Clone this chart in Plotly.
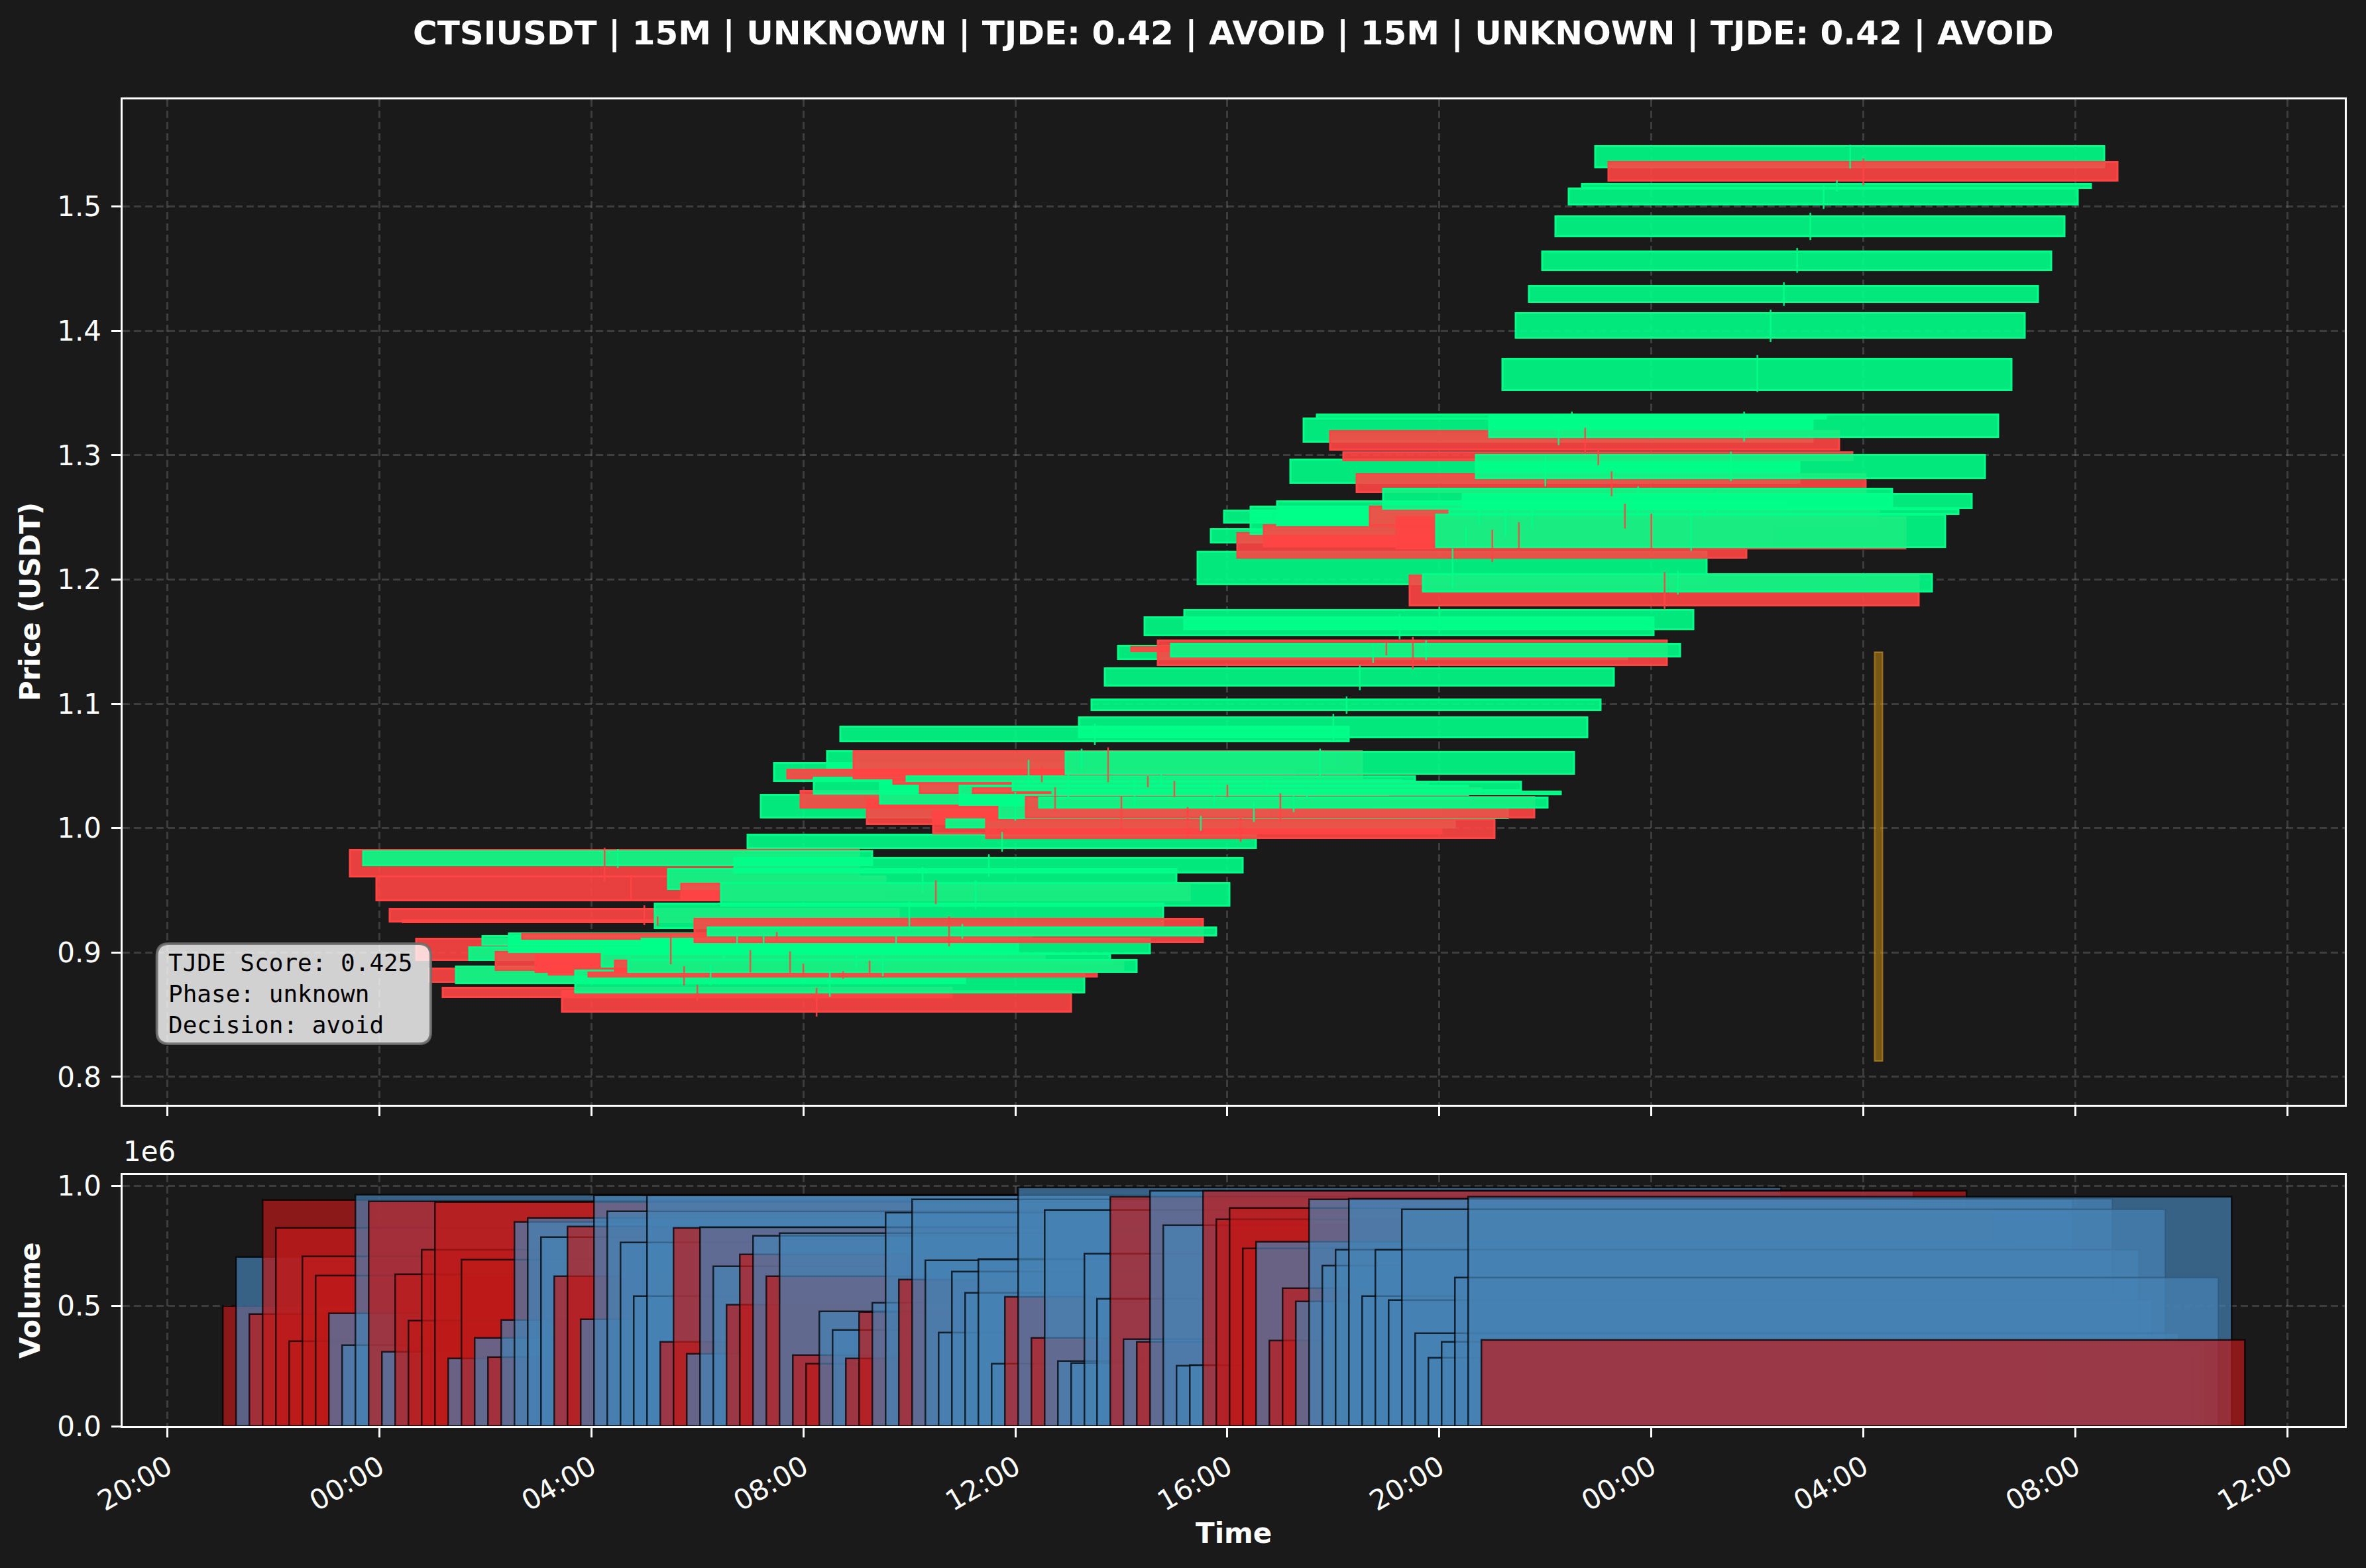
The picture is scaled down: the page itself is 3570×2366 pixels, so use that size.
import plotly.graph_objects as go
import pandas as pd

# ---------------- data ----------------
start_time = "2025-01-02 04:15"
n_candles = 96
opens = [0.982, 0.970, 0.961, 0.935, 0.926, 0.911, 0.887, 0.8716, 0.8751, 0.894,
         0.906, 0.900, 0.900, 0.9146, 0.898, 0.889, 0.8685, 0.8677, 0.8836, 0.8886,
         0.893, 0.884, 0.899, 0.9196, 0.951, 0.955, 0.9267, 0.9137, 0.9377, 0.964,
         0.9836, 1.0086, 1.0376, 1.0468, 1.0296, 1.0274, 1.0484, 1.0695, 1.0617, 1.023,
         1.0198, 1.0386, 1.0375, 1.0354, 1.0137, 1.0004, 1.0185, 1.032, 1.007, 1.008,
         1.0304, 1.0247, 1.0162, 1.027, 1.0434, 1.073, 1.0946, 1.1143, 1.1356, 1.1455,
         1.1548, 1.1507, 1.138, 1.1595, 1.1961, 1.2293, 1.2457, 1.2368, 1.2366, 1.2432,
         1.2436, 1.2777, 1.3107, 1.3294, 1.3191, 1.3018, 1.2844, 1.2583, 1.2569, 1.2498,
         1.2027, 1.1903, 1.226, 1.2527, 1.2570, 1.2814, 1.3141, 1.3523, 1.394, 1.423,
         1.4484, 1.476, 1.5014, 1.5148, 1.5314, 1.5354]
closes = [0.961, 0.981, 0.942, 0.9245, 0.924, 0.894, 0.876, 0.8637, 0.8884, 0.904,
          0.913, 0.886, 0.915, 0.911, 0.884, 0.882, 0.852, 0.8854, 0.8806, 0.8987,
          0.8854, 0.894, 0.911, 0.939, 0.9667, 0.9416, 0.9084, 0.920, 0.9555, 0.976,
          0.9944, 1.0264, 1.052, 1.040, 1.0162, 1.0402, 1.0615, 1.0813, 1.040, 1.003,
          1.0375, 1.0357, 1.0414, 1.0283, 0.9954, 1.0066, 1.034, 1.028, 0.992, 1.018,
          1.037, 1.0082, 1.0244, 1.029, 1.061, 1.089, 1.1033, 1.1281, 1.1463, 1.1423,
          1.1692, 1.1307, 1.148, 1.1752, 1.2219, 1.240, 1.2551, 1.2174, 1.2583, 1.2263,
          1.2624, 1.2960, 1.3294, 1.3324, 1.3043, 1.2954, 1.2698, 1.2436, 1.2727, 1.2245,
          1.1787, 1.2042, 1.252, 1.2562, 1.2683, 1.2997, 1.3324, 1.377, 1.414, 1.436,
          1.4637, 1.4916, 1.5143, 1.518, 1.548, 1.5208]
highs = [0.9842, 0.9833, 0.963, 0.938, 0.929, 0.9146, 0.889, 0.874, 0.890, 0.906,
         0.9155, 0.902, 0.9165, 0.9165, 0.901, 0.891, 0.8716, 0.8863, 0.885, 0.9005,
         0.8935, 0.896, 0.914, 0.941, 0.969, 0.958, 0.929, 0.923, 0.958, 0.979,
         0.997, 1.029, 1.055, 1.050, 1.033, 1.043, 1.064, 1.084, 1.065, 1.026,
         1.040, 1.042, 1.044, 1.038, 1.017, 1.010, 1.037, 1.035, 1.010, 1.021,
         1.040, 1.028, 1.027, 1.032, 1.064, 1.092, 1.106, 1.131, 1.149, 1.149,
         1.172, 1.154, 1.151, 1.178, 1.225, 1.243, 1.258, 1.240, 1.261, 1.246,
         1.265, 1.299, 1.332, 1.335, 1.322, 1.305, 1.287, 1.261, 1.275, 1.253,
         1.206, 1.207, 1.255, 1.259, 1.271, 1.303, 1.335, 1.3805, 1.417, 1.439,
         1.4667, 1.495, 1.517, 1.521, 1.5496, 1.5387]
lows = [0.9572, 0.968, 0.9412, 0.922, 0.9217, 0.8906, 0.8735, 0.861, 0.8737, 0.893,
        0.9045, 0.884, 0.898, 0.9095, 0.8837, 0.8805, 0.8485, 0.8645, 0.879, 0.887,
        0.8834, 0.881, 0.897, 0.917, 0.948, 0.939, 0.905, 0.911, 0.935, 0.961,
        0.981, 1.006, 1.035, 1.037, 1.013, 1.025, 1.046, 1.067, 1.037, 1.000,
        1.017, 1.033, 1.035, 1.025, 0.992, 0.998, 1.016, 1.025, 0.989, 1.005,
        1.028, 1.005, 1.013, 1.024, 1.041, 1.070, 1.092, 1.111, 1.133, 1.139,
        1.152, 1.128, 1.135, 1.157, 1.193, 1.226, 1.243, 1.214, 1.234, 1.223,
        1.241, 1.275, 1.308, 1.327, 1.301, 1.292, 1.267, 1.241, 1.254, 1.221,
        1.176, 1.188, 1.223, 1.250, 1.254, 1.279, 1.311, 1.3508, 1.391, 1.420,
        1.4467, 1.473, 1.498, 1.512, 1.5306, 1.5171]
volumes = [500e3, 703e3, 465e3, 939e3, 824e3, 353e3, 706e3, 626e3, 468e3, 335e3,
           961e3, 935e3, 310e3, 632e3, 438e3, 733e3, 933e3, 282e3, 692e3, 368e3,
           288e3, 440e3, 850e3, 867e3, 786e3, 624e3, 830e3, 444e3, 959e3, 894e3,
           765e3, 541e3, 959e3, 349e3, 824e3, 300e3, 828e3, 665e3, 504e3, 714e3,
           792e3, 624e3, 802e3, 296e3, 259e3, 476e3, 400e3, 282e3, 473e3, 514e3,
           889e3, 608e3, 942e3, 689e3, 390e3, 642e3, 553e3, 695e3, 258e3, 538e3,
           993e3, 367e3, 900e3, 269e3, 261e3, 718e3, 529e3, 953e3, 362e3, 350e3,
           979e3, 835e3, 250e3, 253e3, 979e3, 861e3, 906e3, 740e3, 767e3, 356e3,
           573e3, 518e3, 944e3, 666e3, 732e3, 947e3, 541e3, 734e3, 525e3, 902e3,
           387e3, 285e3, 349e3, 618e3, 953e3, 359e3]
signal_time = "2025-01-03 04:17"
signal_low = 0.8128
signal_high = 1.1418

title_text = "CTSIUSDT | 15M | UNKNOWN | TJDE: 0.42 | AVOID | 15M | UNKNOWN | TJDE: 0.42 | AVOID"
info_lines = ["TJDE Score: 0.425", "Phase: unknown", "Decision: avoid"]
x_tick_times = pd.date_range("2025-01-01 20:00", "2025-01-03 12:00", freq="4h")
price_ticks = [0.8, 0.9, 1.0, 1.1, 1.2, 1.3, 1.4, 1.5]
vol_ticks = [0, 0.5e6, 1.0e6]
vol_tick_text = ["0.0", "0.5", "1.0"]

# ---------------- styling ----------------
W, H = 3570, 2366
BG = "#1a1a1a"
GREEN = (0, 255, 136)
RED = (255, 68, 68)
HOUR_MS = 3600 * 1000
body_width = 9.6 * HOUR_MS
vol_width = 14.4 * HOUR_MS
signal_width = 0.155 * HOUR_MS

times = pd.date_range(start_time, periods=n_candles, freq="15min")
up = [c >= o for o, c in zip(opens, closes)]


def rgba(c, a):
    return f"rgba({c[0]},{c[1]},{c[2]},{a})"


body_base = [min(o, c) for o, c in zip(opens, closes)]
body_h = [abs(c - o) for o, c in zip(opens, closes)]
body_fill = [rgba(GREEN if u else RED, 0.9) for u in up]
body_line = [rgba(GREEN if u else RED, 1.0) for u in up]

fig = go.Figure()

# candle bodies
fig.add_trace(go.Bar(
    x=times, y=body_h, base=body_base, width=[body_width] * n_candles,
    marker=dict(color=body_fill, line=dict(color=body_line, width=3)),
    xaxis="x", yaxis="y", showlegend=False, hoverinfo="skip"))

# wicks
for want_up, col in [(True, GREEN), (False, RED)]:
    wx, wy = [], []
    for t, h, l, u in zip(times, highs, lows, up):
        if u == want_up:
            wx += [t, t, None]
            wy += [l, h, None]
    fig.add_trace(go.Scatter(x=wx, y=wy, mode="lines",
                             line=dict(color=rgba(col, 0.9), width=2.5),
                             xaxis="x", yaxis="y", showlegend=False, hoverinfo="skip"))

# signal bar
fig.add_trace(go.Bar(
    x=[pd.Timestamp(signal_time)], y=[signal_high - signal_low], base=[signal_low],
    width=[signal_width],
    marker=dict(color="rgba(200,140,20,0.55)", line=dict(color="rgba(210,150,30,0.6)", width=2)),
    xaxis="x", yaxis="y", showlegend=False, hoverinfo="skip"))

# volume
vol_fill = ["rgba(70,130,180,0.7)" if u else "rgba(190,25,25,0.7)" for u in up]
fig.add_trace(go.Bar(
    x=times, y=volumes, width=[vol_width] * n_candles,
    marker=dict(color=vol_fill, line=dict(color="rgba(0,0,0,0.75)", width=2.5)),
    xaxis="x2", yaxis="y2", showlegend=False, hoverinfo="skip"))

# ---------------- layout ----------------
x_dom = [184.5 / W, 3538 / W]
y1_dom = [1 - 1667 / H, 1 - 150 / H]
y2_dom = [1 - 2152 / H, 1 - 1773 / H]
x_range = [pd.Timestamp("2025-01-01 19:09"), pd.Timestamp("2025-01-03 13:05")]

grid = dict(showgrid=True, gridcolor="rgba(128,128,128,0.35)", gridwidth=2.5, griddash="11px,6px")
axis_common = dict(showline=True, linecolor="white", linewidth=3, mirror=True,
                   ticks="outside", ticklen=14, tickwidth=3, tickcolor="white",
                   tickfont=dict(family="DejaVu Sans", size=42, color="white"),
                   zeroline=False, automargin=False, **grid)

fig.update_layout(
    width=W, height=H,
    paper_bgcolor=BG, plot_bgcolor=BG,
    margin=dict(l=0, r=0, t=0, b=0, pad=0),
    barmode="overlay", bargap=0,
    showlegend=False,
    xaxis=dict(domain=x_dom, anchor="y", type="date", range=x_range,
               tickvals=list(x_tick_times), showticklabels=False, **axis_common),
    yaxis=dict(domain=y1_dom, anchor="x", range=[0.7776, 1.5861],
               tickvals=price_ticks, tickformat=".1f", ticklabelstandoff=6, **axis_common),
    xaxis2=dict(domain=x_dom, anchor="y2", type="date", range=x_range,
                tickvals=list(x_tick_times), tickformat="%H:%M", tickangle=-30,
                ticklabelstandoff=4, **axis_common),
    yaxis2=dict(domain=y2_dom, anchor="x2", range=[0, 1.0449e6],
                tickvals=vol_ticks, ticktext=vol_tick_text, ticklabelstandoff=6, **axis_common),
)

# rounded info box
bx0, bx1 = 236.7 / W, 650 / W
by0, by1 = 1 - 1575 / H, 1 - 1424 / H
rx, ry = 18 / W, 18 / H
path = (f"M {bx0 + rx},{by0} L {bx1 - rx},{by0} Q {bx1},{by0} {bx1},{by0 + ry} "
        f"L {bx1},{by1 - ry} Q {bx1},{by1} {bx1 - rx},{by1} "
        f"L {bx0 + rx},{by1} Q {bx0},{by1} {bx0},{by1 - ry} "
        f"L {bx0},{by0 + ry} Q {bx0},{by0} {bx0 + rx},{by0} Z")
fig.add_shape(type="path", path=path, xref="paper", yref="paper",
              fillcolor="rgba(255,255,255,0.8)", line=dict(color="rgba(110,110,110,0.9)", width=4),
              layer="above")

annotations = [
    dict(text="<b>" + title_text + "</b>", x=(x_dom[0] + x_dom[1]) / 2, y=1 - 50 / H,
         xref="paper", yref="paper", showarrow=False, xanchor="center", yanchor="middle",
         font=dict(family="DejaVu Sans", size=50, color="white")),
    dict(text="<b>Price (USDT)</b>", x=45.5 / W, y=(y1_dom[0] + y1_dom[1]) / 2,
         xref="paper", yref="paper", showarrow=False, textangle=-90,
         xanchor="center", yanchor="middle",
         font=dict(family="DejaVu Sans", size=42, color="white")),
    dict(text="<b>Volume</b>", x=45.5 / W, y=(y2_dom[0] + y2_dom[1]) / 2,
         xref="paper", yref="paper", showarrow=False, textangle=-90,
         xanchor="center", yanchor="middle",
         font=dict(family="DejaVu Sans", size=42, color="white")),
    dict(text="<b>Time</b>", x=(x_dom[0] + x_dom[1]) / 2, y=1 - 2313 / H,
         xref="paper", yref="paper", showarrow=False, xanchor="center", yanchor="middle",
         font=dict(family="DejaVu Sans", size=42, color="white")),
    dict(text="1e6", x=184 / W, y=1 - 1764 / H, xref="paper", yref="paper",
         showarrow=False, xanchor="left", yanchor="bottom",
         font=dict(family="DejaVu Sans", size=42, color="white")),
    dict(text="<br>".join(info_lines), x=252 / W, y=(by0 + by1) / 2,
         xref="paper", yref="paper", showarrow=False, xanchor="left", yanchor="middle",
         align="left", font=dict(family="DejaVu Sans Mono", size=36, color="black")),
]
fig.update_layout(annotations=annotations)

fig.write_html(
    "out.html",
    config={"displayModeBar": False},
    post_script="document.body.style.margin='0';document.body.style.overflow='hidden';"
                "document.body.style.background='#1a1a1a';",
)
